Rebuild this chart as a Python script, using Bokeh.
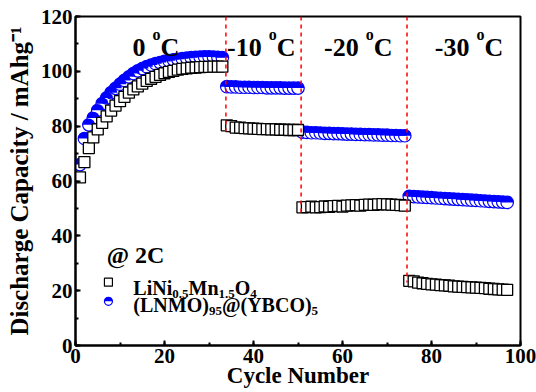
from math import pi

from bokeh.plotting import figure
from bokeh.models import Label, Range1d, SingleIntervalTicker
from bokeh.embed import file_html
from bokeh.resources import INLINE

# ---- data -------------------------------------------------------------
cycles = list(range(1, 98))

# bare LiNi0.5Mn1.5O4 (mAh g^-1)
lnmo_0C = [61.3, 66.9, 72.0, 75.9, 78.8, 81.2, 83.6, 85.7, 87.5, 89.1, 90.7,
           92.2, 93.4, 94.5, 95.5, 96.5, 97.3, 98.0, 98.7, 99.3, 99.8, 100.2,
           100.6, 100.9, 101.1, 101.3, 101.4, 101.5, 101.6, 101.6, 101.7,
           101.7, 101.7]
lnmo_m10C = [80.3, 80.0, 79.5, 79.5, 79.3, 79.2, 79.1, 79.0, 78.9, 78.9, 78.8,
             78.8, 78.7, 78.7, 78.6, 78.6, 78.6]
lnmo_m20C = [50.4, 50.5, 50.6, 50.4, 50.5, 50.7, 50.6, 50.8, 50.9, 50.7, 51.0,
             51.1, 51.2, 51.0, 51.3, 51.4, 51.3, 51.5, 51.6, 51.5, 51.4, 51.3,
             51.2, 51.0]
lnmo_m30C = [23.6, 23.4, 22.9, 22.7, 22.5, 22.3, 22.2, 22.0, 21.9, 21.8, 21.6,
             21.5, 21.4, 21.3, 21.2, 21.1, 21.0, 20.9, 20.7, 20.6, 20.5, 20.4,
             20.3]

# (LNMO)95@(YBCO)5 composite (mAh g^-1)
coated_0C = [66.0, 75.5, 80.5, 83.0, 85.8, 88.2, 90.3, 92.2, 93.8, 95.3, 96.7,
             98.0, 99.2, 100.2, 101.0, 101.7, 102.3, 102.8, 103.2, 103.6,
             103.9, 104.2, 104.4, 104.6, 104.8, 105.0, 105.1, 105.2, 105.3,
             105.3, 105.2, 105.1, 105.0]
coated_m10C = [94.4, 94.3, 94.3, 94.2, 94.2, 94.2, 94.1, 94.1, 94.1, 94.0,
               94.0, 94.0, 94.0, 93.9, 93.9, 93.9, 93.9]
coated_m20C = [77.8, 77.7, 77.6, 77.6, 77.5, 77.4, 77.4, 77.3, 77.3, 77.2,
               77.1, 77.1, 77.0, 77.0, 76.9, 76.9, 76.8, 76.8, 76.7, 76.7,
               76.6, 76.6, 76.5, 76.5]
coated_m30C = [54.4, 54.3, 54.2, 54.1, 54.0, 53.9, 53.8, 53.7, 53.6, 53.5,
               53.4, 53.3, 53.2, 53.1, 53.0, 52.9, 52.8, 52.7, 52.6, 52.5,
               52.4, 52.3, 52.2]

lnmo = lnmo_0C + lnmo_m10C + lnmo_m20C + lnmo_m30C
coated = coated_0C + coated_m10C + coated_m20C + coated_m30C

temperatures = ["0", "-10", "-20", "-30"]
# temperature changes between cycle blocks
switch_cycles = [33.8, 50.7, 74.5]
switch_line_ends = [78.0, 48.0, 23.0]

x_ticks_interval = 20
y_ticks_interval = 20

# ---- styling ----------------------------------------------------------
FONT = "Liberation Serif"
BLUE = "#0000ff"

p = figure(width=536, height=392, output_backend="svg", toolbar_location=None,
           x_range=Range1d(0, 100), y_range=Range1d(0, 120),
           min_border_left=75, min_border_right=16, min_border_top=16,
           min_border_bottom=47)
p.background_fill_color = "white"
p.border_fill_color = "white"
p.outline_line_color = "black"
p.outline_line_width = 2
p.xgrid.visible = False
p.ygrid.visible = False

p.xaxis.ticker = SingleIntervalTicker(interval=x_ticks_interval, num_minor_ticks=2)
p.yaxis.ticker = SingleIntervalTicker(interval=y_ticks_interval, num_minor_ticks=2)
p.xaxis.axis_label = "Cycle Number"
p.yaxis.axis_label = "Discharge Capacity / mAhg\u207b\u00b9"

for ax in (p.xaxis, p.yaxis):
    ax.axis_line_width = 2
    ax.axis_line_color = "black"
    ax.major_tick_line_width = 2
    ax.minor_tick_line_width = 2
    ax.major_tick_line_color = "black"
    ax.minor_tick_line_color = "black"
    ax.major_tick_in = 5
    ax.major_tick_out = 0
    ax.minor_tick_in = 3
    ax.minor_tick_out = 0
    ax.major_label_text_font = FONT
    ax.major_label_text_font_style = "bold"
    ax.major_label_text_font_size = "21px"
    ax.major_label_text_color = "black"
    ax.major_label_standoff = 3
    ax.axis_label_text_font = FONT
    ax.axis_label_text_font_style = "bold"
    ax.axis_label_text_color = "black"

p.xaxis.axis_label_text_font_size = "23px"
p.xaxis.axis_label_standoff = -3
p.yaxis.axis_label_text_font_size = "25px"
p.yaxis.axis_label_standoff = 5

# ---- marks ------------------------------------------------------------
# composite: half-filled circles (white body, blue upper half)
p.scatter(cycles, coated, marker="circle", size=12.5, fill_color="white",
          line_color=BLUE, line_width=1.2)
p.wedge(cycles, coated, radius=6.25, radius_units="screen", start_angle=0,
        end_angle=pi, fill_color=BLUE, line_color=None)

# bare LNMO: open squares
p.scatter(cycles, lnmo, marker="square", size=11, fill_color="white",
          line_color="black", line_width=1.3)

# dashed separators between temperature steps
p.segment(x0=switch_cycles, y0=[120] * len(switch_cycles), x1=switch_cycles,
          y1=switch_line_ends, line_color="red", line_dash="4 4", line_width=1.5)

# ---- text -------------------------------------------------------------
def add_text(x, y, text, size, x_offset=0, y_offset=0, align="left"):
    p.add_layout(Label(x=x, y=y, text=text, text_font=FONT,
                       text_font_style="bold", text_font_size=f"{size}px",
                       text_color="black", text_align=align,
                       text_baseline="alphabetic",
                       x_offset=x_offset, y_offset=y_offset))

# temperature headers: "<T> °C" with a raised "o"
degree_x = [17.3, 43.4, 65.2, 90.1]
for t, dx in zip(temperatures, degree_x):
    add_text(dx, 108.6, t, 26, x_offset=-7, align="right")
    add_text(dx, 113.6, "o", 16)
    add_text(dx, 108.6, "C", 26, x_offset=8)

add_text(7.0, 33.0, "@ 2C", 24)

# legend with chemical sub-scripts
ADV = {"L": .667, "i": .278, "N": .722, "M": .944, "n": .556, "O": .778,
       "(": .333, ")": .333, "@": .930, "Y": .722, "B": .667, "C": .722,
       ".": .25}


def text_width(s, size):
    return sum(ADV.get(ch, .5) for ch in s) * size


def add_formula(x, y, pieces, size=20, sub_size=13):
    off = 0.0
    for s, sub in pieces:
        fs = sub_size if sub else size
        add_text(x, y, s, fs, x_offset=off, y_offset=-6 if sub else 0)
        off += text_width(s, fs)


legend_x = 7.4
text_x = 13.0
p.scatter([legend_x], [23.1], marker="square", size=8, fill_color="white",
          line_color="black", line_width=1.2)
p.scatter([legend_x], [16.1], marker="circle", size=8, fill_color="white",
          line_color=BLUE, line_width=1.2)
p.wedge([legend_x], [16.1], radius=4, radius_units="screen", start_angle=0,
        end_angle=pi, fill_color=BLUE, line_color=None)

add_formula(text_x, 20.9, [("LiNi", False), ("0.5", True), ("Mn", False),
                           ("1.5", True), ("O", False), ("4", True)])
add_formula(text_x, 14.7, [("(LNMO)", False), ("95", True), ("@", False),
                           ("(YBCO)", False), ("5", True)])

open("out.html", "w").write(file_html(p, INLINE))
